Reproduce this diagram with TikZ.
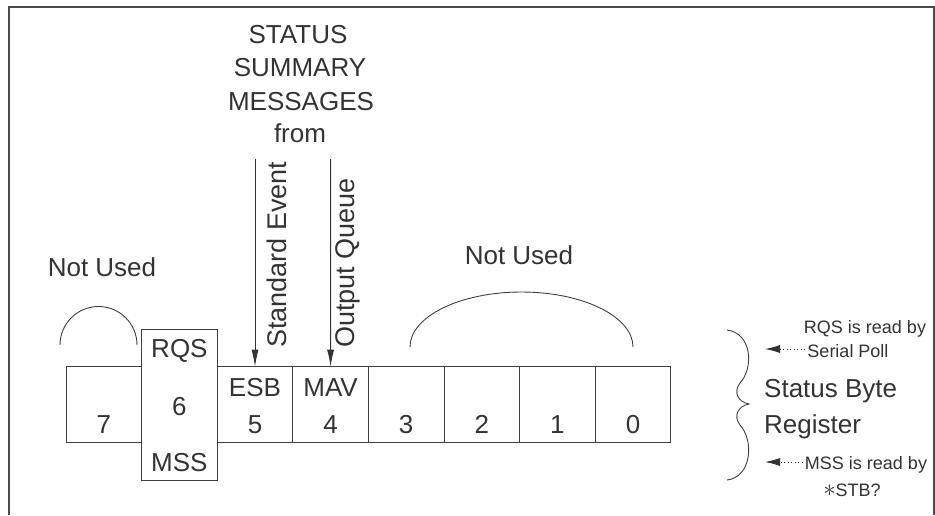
\documentclass[tikz,border=0pt]{standalone}
\usepackage{fontspec}
\setmainfont{Liberation Sans}
\usepackage{tikz}
\usetikzlibrary{arrows.meta,positioning}

\tikzset{
    bitcell/.style={draw=black!75, line width=0.9pt, minimum width=75.6pt, minimum height=75.6pt, inner sep=0pt, outer sep=0pt},
    sumarrow/.style={draw=black!80, line width=0.9pt, -{Latex[length=17pt,width=7pt]}},
    readarrow/.style={draw=black!80, line width=0.9pt, dash pattern=on 1pt off 2.5pt, shorten <=2pt, -{Latex[length=15pt,width=8pt]}},
    arcline/.style={draw=black!75, line width=0.9pt},
    small/.style={font=\fontsize{18}{20}\selectfont}
}

\begin{document}
\begin{tikzpicture}[x=1pt, y=-1pt,
    every node/.style={font=\fontsize{26}{30}\selectfont, text=black!80, inner sep=0pt}
]
\useasboundingbox (0,0) rectangle (935,515);
% frame
\draw[draw=black!70, line width=1.2pt] (9,515) -- (9,7) -- (934,7) -- (934,515);

% register cells
\node[bitcell] (b7) at (103.8,404.5) {};
\node[bitcell, minimum height=151pt, right=0pt of b7] (b6) {};
\node[bitcell, right=0pt of b6] (b5) {};
\node[bitcell, right=0pt of b5] (b4) {};
\node[bitcell, right=0pt of b4] (b3) {};
\node[bitcell, right=0pt of b3] (b2) {};
\node[bitcell, right=0pt of b2] (b1) {};
\node[bitcell, right=0pt of b1] (b0) {};

% cell texts
\node[anchor=base] (n7) at (103.8,433) {7};
\node[anchor=base] (rqs) at (179.4,357) {RQS};
\node[anchor=base] (n6) at (179.4,415) {6};
\node[anchor=base] (mss) at (179.4,471) {MSS};
\node[anchor=base] (esb) at (255,396) {ESB};
\node[anchor=base] (n5) at (255,433) {5};
\node[anchor=base] (mav) at (330.6,396) {MAV};
\node[anchor=base] (n4) at (330.6,433) {4};
\node[anchor=base] (n3) at (406.2,433) {3};
\node[anchor=base] (n2) at (481.8,433) {2};
\node[anchor=base] (n1) at (557.4,433) {1};
\node[anchor=base] (n0) at (633,433) {0};

% summary messages
\node[anchor=base] (title1) at (298,43) {STATUS};
\node[anchor=base] (title2) at (300,76) {SUMMARY};
\node[anchor=base] (title3) at (301,110) {MESSAGES};
\node[anchor=base] (title4) at (300,142) {from};
\coordinate (sefrom) at (255,159);
\coordinate (oqfrom) at (330.6,159);
\draw[sumarrow] (sefrom) -- (b5.north);
\draw[sumarrow] (oqfrom) -- (b4.north);
\node[rotate=90, anchor=west, font=\fontsize{27}{30}\selectfont] (stdevent) at (277,348) {Standard Event};
\node[rotate=90, anchor=west, font=\fontsize{27}{30}\selectfont] (outqueue) at (348,348) {Output Queue};

% not used bits
\node[anchor=base] (nused7) at (102,276) {Not Used};
\draw[arcline] (60,345) arc[start angle=180, end angle=360, x radius=38.5, y radius=38.5];
\node[anchor=base] (nused30) at (519,264) {Not Used};
\draw[arcline] (410,347) arc[start angle=180, end angle=360, x radius=111.5, y radius=55];

% status byte register brace
\draw[arcline] (727,330) .. controls (752,333) and (754,368) .. (740,383)
    .. controls (733,392) and (738,402) .. (749,404)
    .. controls (738,406) and (733,416) .. (740,425)
    .. controls (754,440) and (752,477) .. (727,480);
\node[anchor=base west] (sbr1) at (764,397) {Status Byte};
\node[anchor=base west] (sbr2) at (764,433) {Register};

% read by
\node[small, anchor=base] (rqsread) at (865,333) {RQS is read by};
\node[small, anchor=base] (serial) at (848,357) {Serial Poll};
\node[small, anchor=base] (mssread) at (866,469) {MSS is read by};
\node[small, anchor=base] (stb) at (852,496) {{\fontsize{26}{26}\selectfont$\ast$}STB?};
\coordinate (rqstip) at (765,349);
\coordinate (msstip) at (765,462);
\draw[readarrow] (serial.west |- rqstip) -- (rqstip);
\draw[readarrow] (mssread.west |- msstip) -- (msstip);
\end{tikzpicture}
\end{document}
